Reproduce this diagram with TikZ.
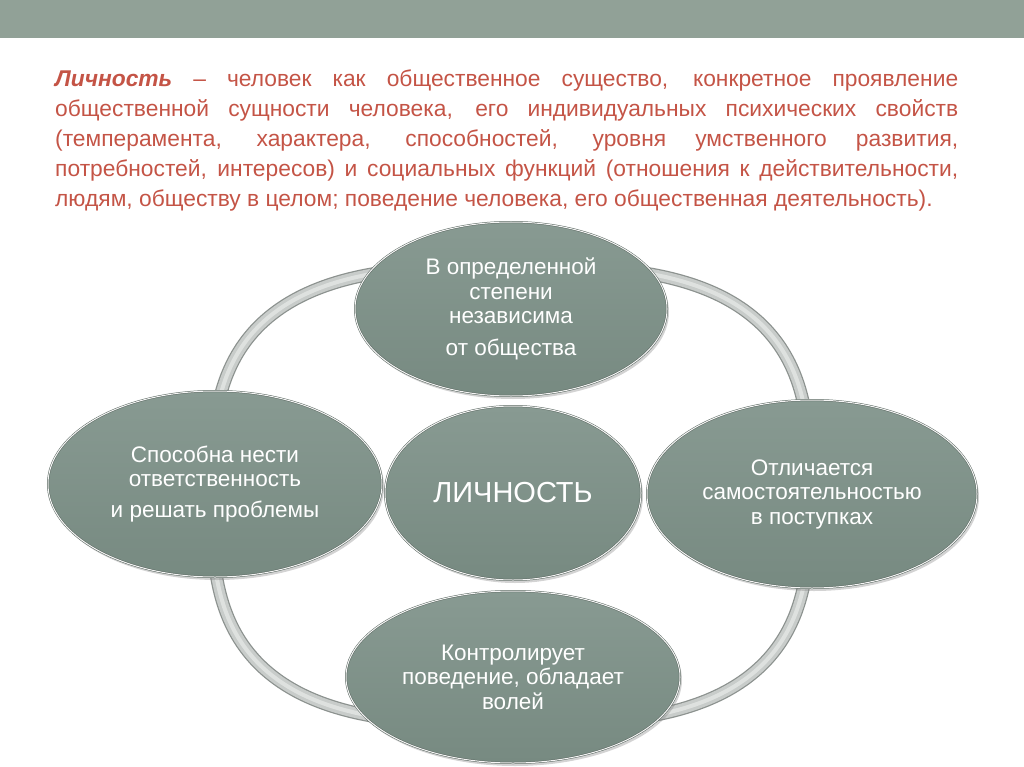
\documentclass[tikz,border=0pt]{standalone}
\usepackage{fontspec}
\setmainfont{Liberation Sans}
\usetikzlibrary{shapes.geometric,shadows}

\definecolor{headgray}{RGB}{145,161,151}
\definecolor{deftext}{RGB}{196,84,70}
\definecolor{ovaltop}{RGB}{136,154,146}
\definecolor{ovalbot}{RGB}{119,138,129}
\definecolor{ovaledge}{RGB}{88,102,95}
\definecolor{ringdark}{RGB}{140,146,143}
\definecolor{ringlight}{RGB}{200,204,202}
\definecolor{ringhi}{RGB}{222,225,223}

\tikzset{
  oval/.style={ellipse, inner sep=0pt, align=center, text=white,
    top color=ovaltop, bottom color=ovalbot,
    draw=ovaledge, line width=.5pt, double=white!92!gray, double distance=1pt,
    drop shadow={shadow xshift=2pt, shadow yshift=-3pt, opacity=.35},
    font=\fontsize{22.5}{24.5}\selectfont}
}

\begin{document}
\begin{tikzpicture}[x=1pt,y=-1pt]
  \useasboundingbox (0,0) rectangle (1024,767);

  % Header band
  \fill[headgray] (0,0) rectangle (1024,38);

  % Definition text
  \node[anchor=north west, inner sep=0pt, text width=903pt, align=justify,
        text=deftext, font=\fontsize{22.8}{30}\selectfont] (defn) at (55,70)
    {\hyphenpenalty=10000 \textbf{\textit{Личность}} -- человек как общественное существо, конкретное проявление\linebreak
     общественной сущности человека, его индивидуальных психических свойств\linebreak
     (темперамента, характера, способностей, уровня умственного развития,\linebreak
     потребностей, интересов) и социальных функций (отношения к действительности,\linebreak
     людям, обществу в целом; поведение человека, его общественная деятельность).};

  % Ring behind the ovals
  \foreach \w/\c in {13/ringdark, 10.5/ringlight, 4/ringhi}
    \draw[\c, line width=\w pt] plot[domain=1:361, samples=121, smooth]
      ({511+299*(cos(\x)<0?-1:1)*abs(cos(\x))^(2/3)},
       {495+229*(sin(\x)<0?-1:1)*abs(sin(\x))^(2/3)}) -- cycle;

  % Ovals
  \node[oval, minimum width=312pt, minimum height=174pt] (indep) at (511,309)
    {В определенной\\степени\\независима\\[7pt]от общества};
  \node[oval, minimum width=334pt, minimum height=186pt] (resp) at (215,484)
    {Способна нести\\ответственность\\[6pt]и решать проблемы};
  \node[oval, minimum width=330pt, minimum height=188pt] (selfdep) at (812,494)
    {Отличается\\самостоятельностью\\в поступках};
  \node[oval, minimum width=334pt, minimum height=172pt] (will) at (513,677)
    {Контролирует\\поведение, обладает\\волей};
  \node[oval, minimum width=256pt, minimum height=174pt,
        font=\fontsize{29}{32}\selectfont] (pers) at (513,493) {ЛИЧНОСТЬ};

\end{tikzpicture}
\end{document}
